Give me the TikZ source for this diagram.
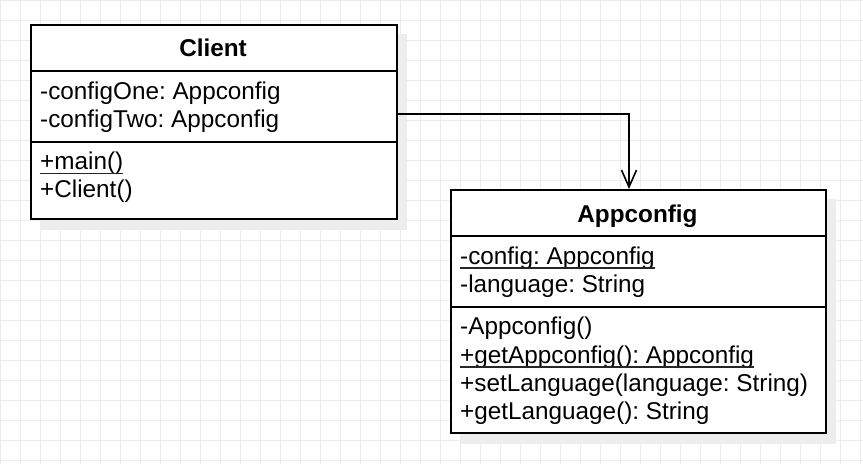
\documentclass[tikz,border=0pt]{standalone}
\usepackage{fontspec}
\setmainfont{Liberation Sans}
\usetikzlibrary{arrows.meta}
\frenchspacing
\begin{document}
\begin{tikzpicture}[x=1pt,y=-1pt,
  gridline/.style={draw=black!8,line width=0.8pt},
  shadowbox/.style={fill=black!7,draw=none},
  classbox/.style={draw=black,line width=2pt,fill=white,inner sep=0,anchor=north west},
  divider/.style={draw=black,line width=1.6pt},
  txt/.style={inner sep=0,anchor=base west,font=\fontsize{24.3}{28}\selectfont},
  ttl/.style={inner sep=0,anchor=base,font=\fontsize{24.3}{28}\selectfont\bfseries},
  ul/.style={draw=black!85,line width=1.6pt},
  arrowline/.style={draw=black,line width=2pt,-{Straight Barb[length=17pt,width=15pt,line width=1.6pt]}}]
\useasboundingbox (0,0) rectangle (863,464);
\fill[white] (0,0) rectangle (863,464);
% grid
\foreach \x in {0,20,...,860} \draw[gridline] (\x,0) -- (\x,464);
\foreach \y in {0,20,...,460} \draw[gridline] (0,\y) -- (863,\y);
% shadows
\fill[shadowbox] (40,34) rectangle (407,230);
\fill[shadowbox] (460,199) rectangle (836,444);
% Client class
\node[classbox,minimum width=366pt,minimum height=194pt] (client) at (30,24) {};
\draw[divider] (30,71) -- (396,71);
\draw[divider] (30,142) -- (396,142);
\node[ttl] (clientT) at (213,56) {Client};
\node[txt] (c1) at (40,99.5) {-configOne: Appconfig};
\node[txt] (c2) at (40,127.5) {-configTwo: Appconfig};
\node[txt] (c3) at (40,169.5) {+main()};
\node[txt] (c4) at (40,197.5) {+Client()};
\draw[ul] ([yshift=-4pt]c3.base west) -- ([yshift=-4pt]c3.base east);
% Appconfig class
\node[classbox,minimum width=375pt,minimum height=243pt] (app) at (450,189) {};
\draw[divider] (450,236) -- (825,236);
\draw[divider] (450,307) -- (825,307);
\node[ttl] (appT) at (637.5,222) {Appconfig};
\node[txt] (a1) at (460,264) {-config: Appconfig};
\node[txt] (a2) at (460,292) {-language: String};
\node[txt] (a3) at (460,334.5) {-Appconfig()};
\node[txt] (a4) at (460,363) {+getAppconfig(): Appconfig};
\node[txt] (a5) at (460,391.5) {+setLanguage(language: String)};
\node[txt] (a6) at (460,419.5) {+getLanguage(): String};
\draw[ul] ([yshift=-4pt]a1.base west) -- ([yshift=-4pt]a1.base east);
\draw[ul] ([yshift=-4pt]a4.base west) -- ([yshift=-4pt]a4.base east);
% connector
\coordinate (src) at (client.east |- 0,114);
\coordinate (dst) at (629,189);
\draw[arrowline] (src) -| (dst);
\end{tikzpicture}
\end{document}
